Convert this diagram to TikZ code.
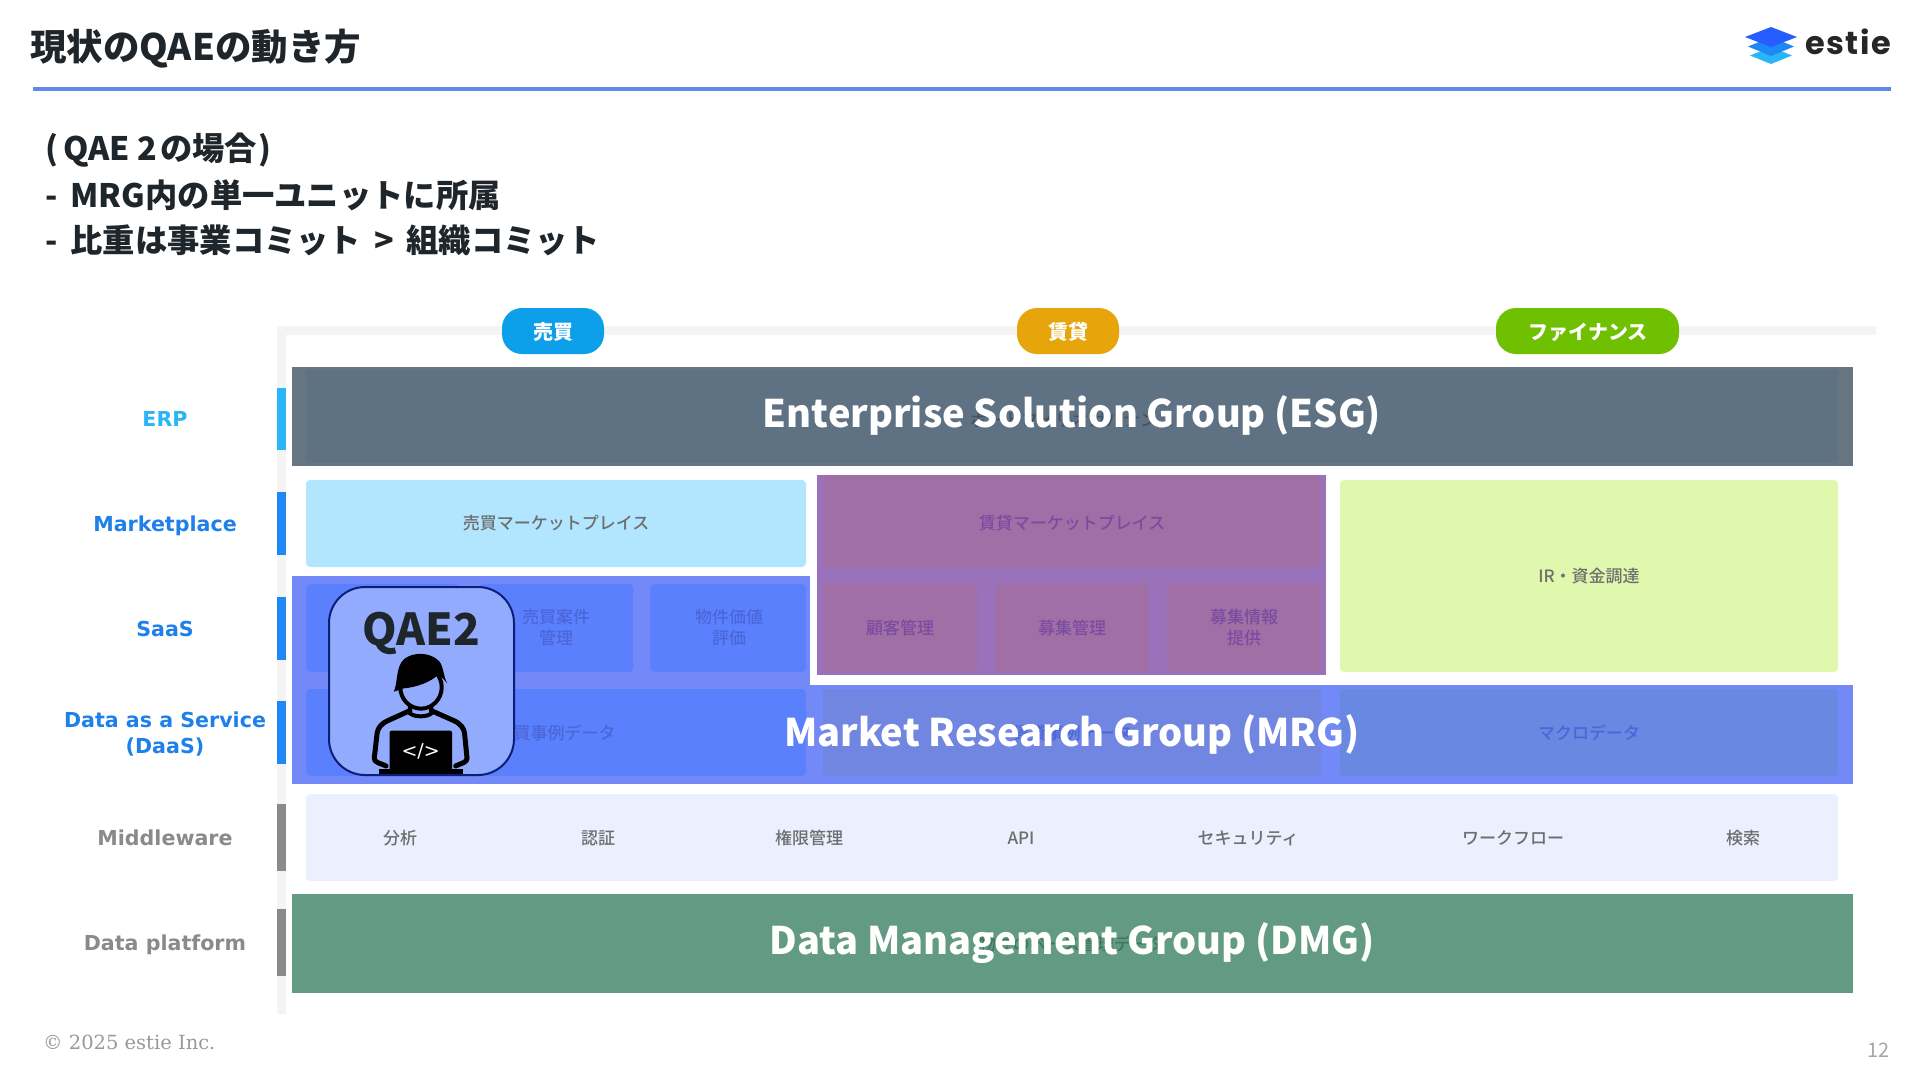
\documentclass[tikz,border=0pt]{standalone}
\usepackage{fontspec}
\setmainfont{Noto Sans CJK JP}
\newfontfamily\medfont{Noto Sans CJK JP Medium}
\newfontfamily\latinwide{DejaVu Sans}
\newfontfamily\logofont[LetterSpace=5]{Poppins}
\newfontfamily\footfont{DejaVu Serif}
\definecolor{ink}{HTML}{1E252B}
\definecolor{rulecol}{HTML}{5F8AE8}
\definecolor{axisbar}{HTML}{F4F4F4}
\definecolor{erpcol}{HTML}{2AB5F6}
\definecolor{bluecol}{HTML}{1E88F5}
\definecolor{bluetxt}{HTML}{1F80EA}
\definecolor{greycol}{HTML}{8A8A8A}
\definecolor{esgout}{HTML}{687683}
\definecolor{esgin}{HTML}{5F7283}
\definecolor{esgtxt}{HTML}{45535F}
\definecolor{mrgcol}{HTML}{7389F8}
\definecolor{mrgsale}{HTML}{5B80FD}
\definecolor{mrgmid}{HTML}{7086E0}
\definecolor{mrgright}{HTML}{6888E2}
\definecolor{mrgtxt}{HTML}{4A66D8}
\definecolor{purpout}{HTML}{9A72BC}
\definecolor{purpin}{HTML}{A06FA5}
\definecolor{purptxt}{HTML}{7A4CA0}
\definecolor{salecol}{HTML}{B2E6FF}
\definecolor{fincol}{HTML}{DFF8AD}
\definecolor{midcol}{HTML}{EBF0FF}
\definecolor{dmgcol}{HTML}{629A83}
\definecolor{dmgtxt}{HTML}{3F7660}
\definecolor{smalltxt}{HTML}{6E6E6E}
\definecolor{cardfill}{HTML}{92ABFD}
\definecolor{cardline}{HTML}{0B1F7A}
\tikzset{
  lab/.style={inner sep=0pt,align=center,font=\medfont\fontsize{17}{21}\selectfont,text=smalltxt},
  labmrg/.style={lab,text=mrgtxt},
  labpurp/.style={lab,text=purptxt},
  group/.style={inner sep=0pt,text=white,font=\fontsize{38}{46}\selectfont\bfseries},
  pill/.style={inner sep=0pt,text=white,font=\fontsize{20}{24}\selectfont\bfseries},
  side/.style={inner sep=0pt,align=center,font=\latinwide\fontsize{20.6}{26}\selectfont\bfseries,text=bluetxt},
  sub/.style={inner sep=0pt,anchor=west,text=ink,font=\fontsize{32.3}{39}\selectfont\bfseries},
  box/.style={rounded corners=4pt}
}
\begin{document}
\begin{tikzpicture}[x=1pt,y=-1pt]
\useasboundingbox (0,0) rectangle (1920,1080);
\fill[white] (0,0) rectangle (1920,1080);
% header
\node[inner sep=0pt,anchor=west,text=ink,font=\fontsize{36.5}{42}\selectfont\bfseries] (title) at (30,49) {現状のQAEの動き方};
\fill[rulecol] (33,87) rectangle (1891,91);
% logo
\fill[erpcol] (1750,55.5) -- (1771,47) -- (1792,55.5) -- (1771,64) -- cycle;
\fill[bluecol] (1748,46.5) -- (1771,37) -- (1794,46.5) -- (1771,56) -- cycle;
\fill[blue!75!cyan!85!white] (1745,37) -- (1771,27) -- (1797,37) -- (1771,47) -- cycle;
\node[inner sep=0pt,anchor=base west,text=black!85,font=\logofont\fontsize{32}{36}\selectfont\bfseries] (logo) at (1805,54) {estie};
% sub title
\node[sub] (s1) at (45,150) {(\kern5pt QAE 2 \kern-4pt の場合\kern1pt)};
\node[sub] (s2) at (45,195) {-\kern13pt MRG内の単一ユニットに所属};
\node[sub] (s3) at (45,240) {-\kern13pt 比重は事業コミット \,>\, 組織コミット};
% axes
\fill[axisbar] (277,326) rectangle (1876,335);
\fill[axisbar] (277,326) rectangle (286,1014);
\fill[erpcol] (277,388) rectangle (286,450);
\fill[bluecol] (277,492) rectangle (286,555);
\fill[bluecol] (277,597) rectangle (286,660);
\fill[bluecol] (277,701) rectangle (286,764);
\fill[greycol] (277,804) rectangle (286,871);
\fill[greycol] (277,909) rectangle (286,976);
\node[side,text=erpcol] (lerp) at (165,419) {ERP};
\node[side] (lmkt) at (165,526) {Marketplace};
\node[side] (lsaas) at (165,629) {SaaS};
\node[side] (ldaas) at (165,734) {Data as a Service\\(DaaS)};
\node[side,text=greycol] (lmid) at (165,838) {Middleware};
\node[side,text=greycol] (ldata) at (165,945) {Data platform};
% pills
\fill[rounded corners=20pt,fill={rgb,255:red,14;green,159;blue,234}] (502,308) rectangle (604,354);
\fill[rounded corners=20pt,fill={rgb,255:red,229;green,165;blue,11}] (1017,308) rectangle (1119,354);
\fill[rounded corners=20pt,fill={rgb,255:red,110;green,192;blue,0}] (1496,308) rectangle (1679,354);
\node[pill] (p1) at (553,332) {売買};
\node[pill] (p2) at (1068,332) {賃貸};
\node[pill] (p3) at (1588,332) {ファイナンス};
% ESG
\fill[esgout] (292,367) rectangle (1853,466);
\fill[esgin] (306,370) rectangle (1838,463);
\node[lab,text=esgtxt] (esgh) at (1072,420) {ポートフォリオガバナンス};
\node[group] (esg) at (1072,415) {Enterprise Solution Group (ESG)};
% sale marketplace
\fill[box,salecol] (306,480) rectangle (806,567);
\node[lab] (t1) at (556,523) {売買マーケットプレイス};
% rental
\fill[purpout] (817,475) rectangle (1326,675);
\fill[box,purpin] (823,475) rectangle (1321,567);
\fill[box,purpin] (823,583) rectangle (977,672);
\fill[box,purpin] (995,583) rectangle (1149,672);
\fill[box,purpin] (1167,583) rectangle (1321,672);
\node[labpurp] (t2) at (1072,523) {賃貸マーケットプレイス};
\node[labpurp] (t3) at (900,628) {顧客管理};
\node[labpurp] (t4) at (1072,628) {募集管理};
\node[labpurp] (t5) at (1244,628) {募集情報\\提供};
% finance
\fill[box,fincol] (1340,480) rectangle (1838,672);
\node[lab] (t6) at (1589,576) {IR・資金調達};
% MRG
\fill[mrgcol] (292,576) rectangle (810,685);
\fill[mrgcol] (292,685) rectangle (1853,784);
\fill[box,mrgsale] (306,584) rectangle (459,672);
\fill[box,mrgsale] (480,584) rectangle (633,672);
\fill[box,mrgsale] (650,584) rectangle (806,672);
\fill[box,mrgsale] (306,689) rectangle (806,776);
\fill[box,mrgmid] (823,689) rectangle (1321,776);
\fill[box,mrgright] (1340,689) rectangle (1838,776);
\node[labmrg] (t7) at (556,628) {売買案件\\管理};
\node[labmrg] (t8) at (729,628) {物件価値\\評価};
\node[labmrg] (t9) at (556,733) {売買事例データ};
\node[labmrg] (t10) at (1072,733) {賃貸事例データ};
\node[labmrg] (t11) at (1589,733) {マクロデータ};
\node[group] (mrg) at (1072,734) {Market Research Group (MRG)};
% middleware
\fill[box,midcol] (306,794) rectangle (1838,881);
\node[lab] (m1) at (400,838) {分析};
\node[lab] (m2) at (598,838) {認証};
\node[lab] (m3) at (809,838) {権限管理};
\node[lab] (m4) at (1021,838) {API};
\node[lab] (m5) at (1248,838) {セキュリティ};
\node[lab] (m6) at (1513,838) {ワークフロー};
\node[lab] (m7) at (1743,838) {検索};
% DMG
\fill[dmgcol] (292,894) rectangle (1853,993);
\node[lab,text=dmgtxt] (dmgh) at (1072,944) {物件のベース管理データ};
\node[group] (dmg) at (1072,943) {Data Management Group (DMG)};
% QAE card
\filldraw[fill=cardfill,draw=cardline,line width=2pt,rounded corners=36pt] (329,587) rectangle (514,775);
\node[inner sep=0pt,text=ink,font=\fontsize{44}{50}\selectfont\bfseries] (qae) at (421,633) {QAE2};
\begin{scope}[shift={(270,450)},x=0.357pt,y=-0.3333pt]
  % torso
  \draw[black,line width=5pt,line join=round,line cap=round] (392,782) -- (330,812) .. controls (310,822) and (302,835) .. (300,850) -- (292,925) .. controls (292,938) and (310,940) .. (325,948);
  \draw[black,line width=5pt,line join=round,line cap=round] (452,782) -- (515,812) .. controls (535,822) and (543,835) .. (545,850) -- (552,925) .. controls (552,938) and (535,940) .. (520,948);
  % neck
  \draw[black,line width=4pt] (392,765) -- (392,790) .. controls (405,802) and (440,802) .. (452,790) -- (452,765);
  % head
  \filldraw[fill=cardfill,draw=black,line width=4pt] (423,712) ellipse [x radius=58, y radius=64];
  % hair
  \fill[black] (347,725) .. controls (358,700) and (352,650) .. (375,628) .. controls (400,605) and (450,605) .. (475,635) .. controls (488,655) and (485,680) .. (497,700) -- (472,672) .. controls (455,695) and (410,712) .. (375,715) -- cycle;
  % laptop
  \fill[black,rounded corners=2pt] (335,842) rectangle (510,965);
  \fill[black] (305,958) rectangle (540,972);
  \node[inner sep=0pt,text=white,font=\latinwide\fontsize{19}{22}\selectfont] (code) at (422,905) {</>};
\end{scope}
% footer
\node[inner sep=0pt,anchor=west,text=black!40,font=\footfont\fontsize{19.5}{23}\selectfont] (copy) at (43,1042) {© 2025 estie Inc.};
\node[inner sep=0pt,anchor=east,text=black!35,font=\fontsize{20}{24}\selectfont] (pg) at (1890,1050) {12};
\end{tikzpicture}
\end{document}
